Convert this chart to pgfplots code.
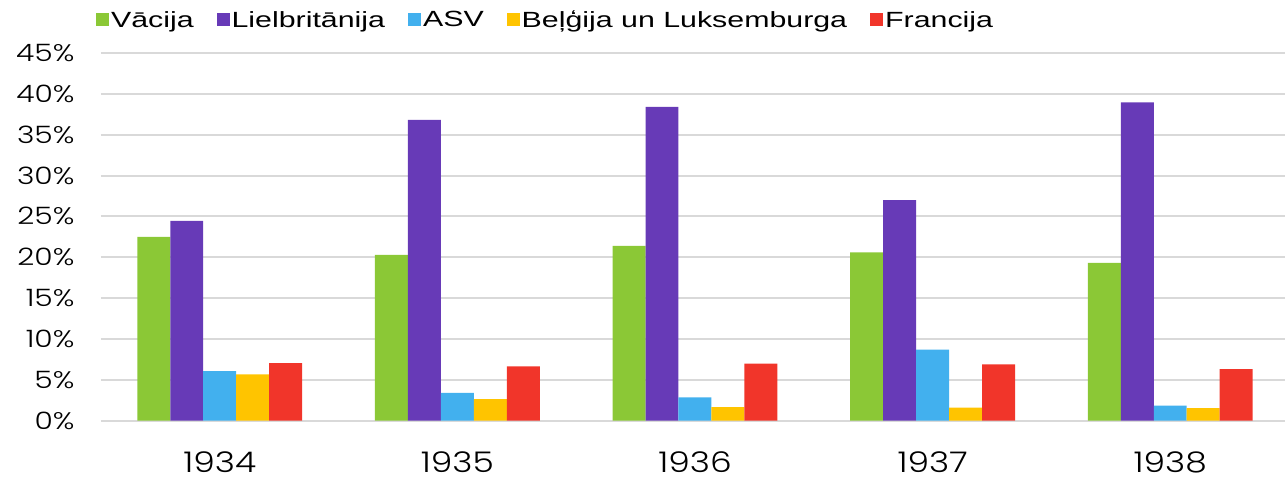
\documentclass[border=0pt]{standalone}
\usepackage{pgfplots}
\pgfplotsset{compat=1.18}
\usepackage{fontspec}
\setmainfont{Liberation Sans}
\newfontfamily\legfont[FakeStretch=1.38]{Liberation Sans}
\newfontfamily\ytickfont[FakeStretch=1.24]{Poppins Light}
\newfontfamily\xtickfont[FakeStretch=1.21]{Poppins Light}
\definecolor{cgreen}{HTML}{8BC836}
\definecolor{cpurple}{HTML}{673AB7}
\definecolor{cblue}{HTML}{42B0EE}
\definecolor{cyellow}{HTML}{FFC400}
\definecolor{cred}{HTML}{F1352A}
\definecolor{cgrid}{HTML}{D9D9D9}
\begin{document}
\begin{tikzpicture}[x=1pt,y=1pt]
\begin{axis}[
  at={(0,0)}, anchor=south west,
  scale only axis, width=1185pt, height=368pt,
  xmin=-0.5, xmax=4.483, ymin=0, ymax=45,
  ybar=0pt, bar width=33pt,
  axis line style={draw=none},
  axis x line*=bottom,
  xtick={0,1,2,3,4}, xticklabels={1934,1935,1936,1937,1938},
  ytick={0,5,...,45},
  yticklabel={\pgfmathprintnumber{\tick}\%},
  /pgf/number format/assume math mode=true,
  xticklabel style={font=\xtickfont\fontsize{28.5}{29}\selectfont, anchor=base, inner sep=0pt, text depth=0pt, yshift=-52pt},
  yticklabel style={font=\ytickfont\fontsize{24}{26}\selectfont, xshift=-23pt},
  major tick length=0pt,
  ymajorgrids, grid style={cgrid, line width=2pt},
  legend columns=5,
  legend style={draw=none, fill=none, at={(0.3755,1.0897)}, anchor=center,
    font=\legfont\fontsize{22}{24}\selectfont,
    /tikz/every even column/.append style={column sep=21pt},
    /tikz/every odd column/.append style={column sep=0pt},
    nodes={inner xsep=2pt}},
  legend cell align=left,
  legend image code/.code={\fill[#1] (0pt,-6.5pt) rectangle (13pt,6.5pt);},
  clip=false,
]
\addplot[fill=cgreen, draw=none] coordinates {(0,22.5) (1,20.3) (2,21.4) (3,20.6) (4,19.3)};
\addplot[fill=cpurple, draw=none] coordinates {(0,24.45) (1,36.8) (2,38.4) (3,27.0) (4,38.95)};
\addplot[fill=cblue, draw=none] coordinates {(0,6.05) (1,3.4) (2,2.85) (3,8.68) (4,1.83)};
\addplot[fill=cyellow, draw=none] coordinates {(0,5.66) (1,2.65) (2,1.67) (3,1.6) (4,1.55)};
\addplot[fill=cred, draw=none] coordinates {(0,7.05) (1,6.64) (2,6.97) (3,6.89) (4,6.32)};
\legend{Vācija, Lielbritānija, ASV, Beļģija un Luksemburga, Francija}
\end{axis}
\path[use as bounding box] (-101,-58) rectangle (1185,421);
\end{tikzpicture}
\end{document}
